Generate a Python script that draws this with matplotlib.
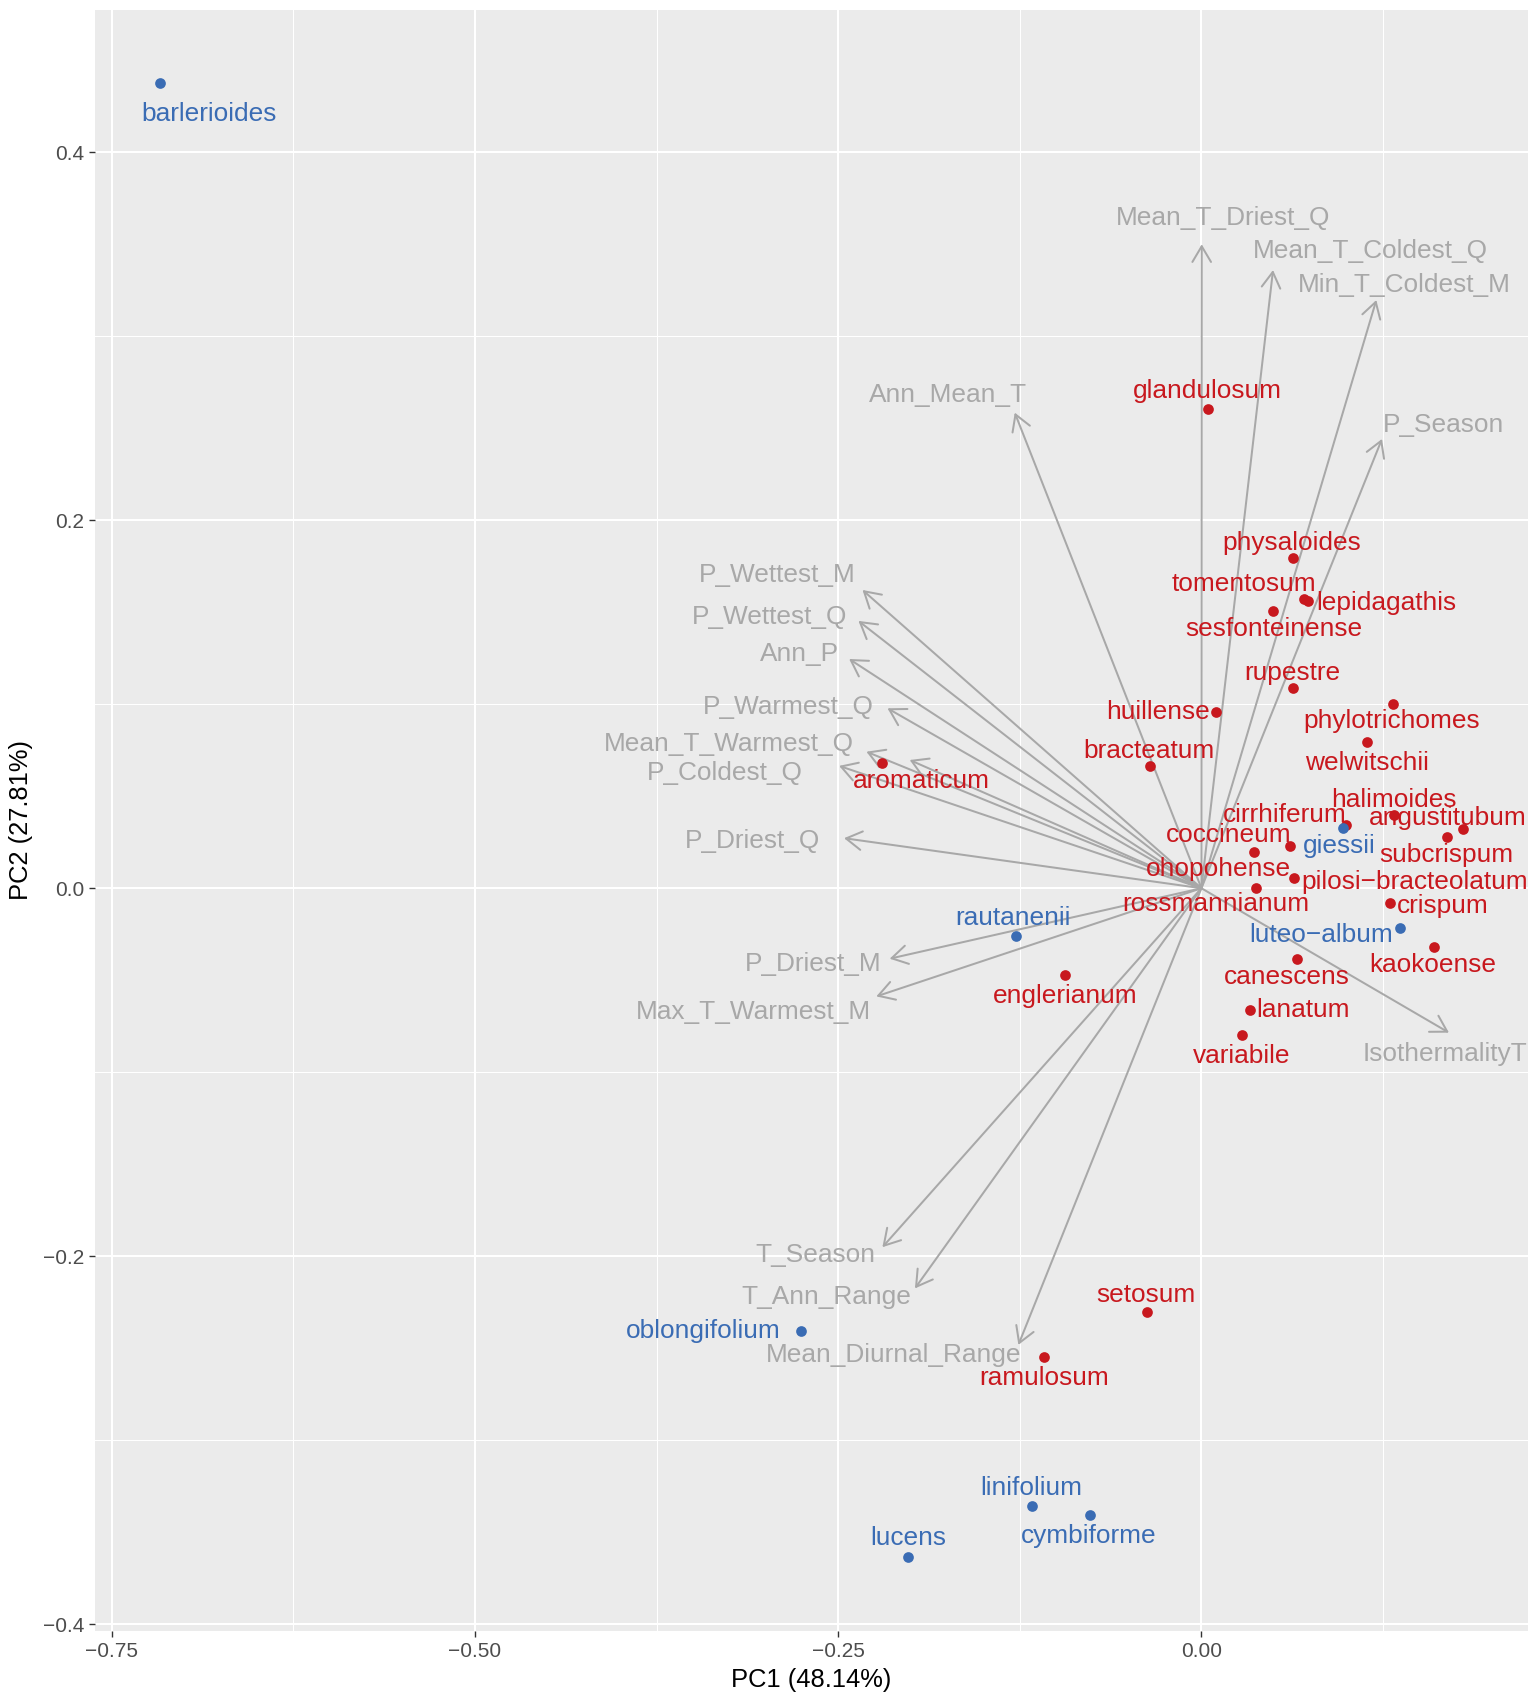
import matplotlib
matplotlib.use("Agg")
import matplotlib.pyplot as plt
from matplotlib.ticker import FuncFormatter

plt.rcParams['font.family'] = ['Liberation Sans', 'DejaVu Sans']

# species scores (PC1, PC2) and group
species = ["barlerioides", "giessii", "luteo\u2212album", "rautanenii", "oblongifolium",
           "linifolium", "cymbiforme", "lucens",
           "glandulosum", "physaloides", "tomentosum", "lepidagathis", "sesfonteinense",
           "rupestre", "huillense", "phylotrichomes", "welwitschii", "bracteatum",
           "aromaticum", "halimoides", "angustitubum", "subcrispum", "cirrhiferum",
           "coccineum", "ohopohense", "pilosi\u2212bracteolatum", "rossmannianum",
           "crispum", "kaokoense", "canescens", "lanatum", "variabile", "englerianum",
           "setosum", "ramulosum"]
pc1 = [-0.7168, 0.0975, 0.1369, -0.1276, -0.2758, -0.1168, -0.0767, -0.2019,
       0.0045, 0.0630, 0.0704, 0.0734, 0.0496, 0.0630, 0.0103, 0.1319, 0.1142,
       -0.0356, -0.2198, 0.1326, 0.1800, 0.1690, 0.0998, 0.0613, 0.0362, 0.0640,
       0.0376, 0.1296, 0.1599, 0.0661, 0.0332, 0.0279, -0.0936, -0.0372, -0.1083]
pc2 = [0.4375, 0.0329, -0.0214, -0.0261, -0.2405, -0.3356, -0.3405, -0.3636,
       0.2603, 0.1797, 0.1571, 0.1563, 0.1507, 0.1090, 0.0960, 0.1002, 0.0793,
       0.0666, 0.0679, 0.0398, 0.0322, 0.0277, 0.0342, 0.0232, 0.0197, 0.0054,
       0.0003, -0.0078, -0.0317, -0.0386, -0.0661, -0.0797, -0.0474, -0.2302, -0.2547]
group = ["B"] * 8 + ["A"] * 27

# environmental loadings (arrow tips)
variables = ["Ann_Mean_T", "Mean_T_Driest_Q", "Mean_T_Coldest_Q", "Min_T_Coldest_M",
             "P_Season", "P_Wettest_M", "P_Wettest_Q", "Ann_P", "P_Warmest_Q",
             "Mean_T_Warmest_Q", "Mean_T_Wettest_Q", "P_Coldest_Q", "P_Driest_Q",
             "P_Driest_M", "Max_T_Warmest_M", "IsothermalityT", "T_Season",
             "T_Ann_Range", "Mean_Diurnal_Range"]
load1 = [-0.1285, 0.0002, 0.0493, 0.1204, 0.1243, -0.2333, -0.2361, -0.2425, -0.2161,
         -0.2306, -0.2008, -0.2494, -0.2460, -0.2146, -0.2238, 0.1704, -0.2196,
         -0.1972, -0.1260]
load2 = [0.2585, 0.3500, 0.3360, 0.3197, 0.2442, 0.1621, 0.1453, 0.1246, 0.0978,
         0.0742, 0.0697, 0.0665, 0.0272, -0.0383, -0.0588, -0.0785, -0.1951,
         -0.2175, -0.2482]
shown_var_labels = [v for v in variables if v != "Mean_T_Wettest_Q"]  # dropped by repel

# label placement (pixel offsets from the mark, like the repelled labels)
sp_offsets = [(49, -29), (-4, -16), (-79, -5), (-3, 20), (-97, 2), (0, 20), (-1, -19), (0, 21),
              (-1, 20), (-1, 17), (-60, 17), (78, 0), (0, -16), (-1, 17), (-58, 2), (-1, -15),
              (0, -19), (-1, 17), (39, -16), (0, 17), (-15, 13), (-1, -16), (-62, 12),
              (-62, 13), (-36, -15), (120, -2), (-40, -14), (53, -1), (-1, -16), (-11, -16),
              (53, 2), (0, -19), (0, -19), (-1, 19), (0, -19)]
var_offsets = {"Ann_Mean_T": (-67, 20), "Mean_T_Driest_Q": (21, 28),
               "Mean_T_Coldest_Q": (97, 21), "Min_T_Coldest_M": (28, 17),
               "P_Season": (62, 16), "P_Wettest_M": (-85, 17), "P_Wettest_Q": (-89, 6),
               "Ann_P": (-50, 7), "P_Warmest_Q": (-99, 3), "Mean_T_Warmest_Q": (-138, 10),
               "P_Coldest_Q": (-114, -5), "P_Driest_Q": (-92, -1), "P_Driest_M": (-76, -3),
               "Max_T_Warmest_M": (-123, -14), "IsothermalityT": (-4, -19),
               "T_Season": (-67, -6), "T_Ann_Range": (-89, -7),
               "Mean_Diurnal_Range": (-125, -8)}
text_drop = 2  # text sits a touch lower than its box centre

colors = {"A": "#C8181E", "B": "#3A6CB4"}
gray = "#A8A8A8"

fig = plt.figure(figsize=(15.36, 17.04), dpi=100)
ax = fig.add_axes([95 / 1536, 1 - 1631 / 1704, 1433 / 1536, 1621.5 / 1704])
ax.set_facecolor("#EBEBEB")
for s in ax.spines.values():
    s.set_visible(False)

ax.set_xlim(-0.7616, 0.2248)
ax.set_ylim(-0.4037, 0.4776)
ax.set_xticks([-0.75, -0.5, -0.25, 0.0])
ax.set_xticks([-0.625, -0.375, -0.125, 0.125], minor=True)
ax.set_yticks([-0.4, -0.2, 0.0, 0.2, 0.4])
ax.set_yticks([-0.3, -0.1, 0.1, 0.3], minor=True)
ax.xaxis.set_major_formatter(FuncFormatter(lambda v, p: ("%.2f" % v).replace("-", "\u2212")))
ax.yaxis.set_major_formatter(FuncFormatter(lambda v, p: ("%.1f" % v).replace("-", "\u2212")))
ax.grid(which="major", color="white", lw=1.45)
ax.grid(which="minor", color="white", lw=0.72)
ax.set_axisbelow(True)
ax.tick_params(which="major", length=4.3, width=1.0, color="#333333",
               labelsize=15, labelcolor="#4D4D4D", pad=3.5)
ax.tick_params(which="minor", length=0)

# arrows
for name, a, b in zip(variables, load1, load2):
    ax.annotate("", xy=(a, b), xytext=(0, 0),
                arrowprops=dict(arrowstyle="->,head_length=0.565,head_width=0.335",
                                color=gray, lw=1.45, shrinkA=0, shrinkB=0,
                                mutation_scale=20), zorder=2)
for name, a, b in zip(variables, load1, load2):
    if name in shown_var_labels:
        dx, dy = var_offsets[name]
        ax.annotate(name, xy=(a, b), xytext=(dx, dy - text_drop), textcoords="offset pixels",
                    ha="center", va="center", fontsize=18.9, color=gray, zorder=4)

# species points: group A first, then B on top
for g in ["A", "B"]:
    xs = [x for x, gg in zip(pc1, group) if gg == g]
    ys = [y for y, gg in zip(pc2, group) if gg == g]
    ax.plot(xs, ys, "o", ms=7.7, color=colors[g], mec="none", zorder=3)

for name, x, y, g, off in zip(species, pc1, pc2, group, sp_offsets):
    ax.annotate(name, xy=(x, y), xytext=(off[0], off[1] - text_drop), textcoords="offset pixels",
                ha="center", va="center", fontsize=18.9, color=colors[g], zorder=4)

ax.set_xlabel("PC1 (48.14%)", fontsize=18.4, color="black", va="center")
ax.set_ylabel("PC2 (27.81%)", fontsize=18.4, color="black", va="center")
ax.xaxis.set_label_coords(0.5, (1631 - 1680) / 1621.5)
ax.yaxis.set_label_coords((20.7 - 95) / 1433, 0.5)

fig.savefig("out.png", dpi=100)
